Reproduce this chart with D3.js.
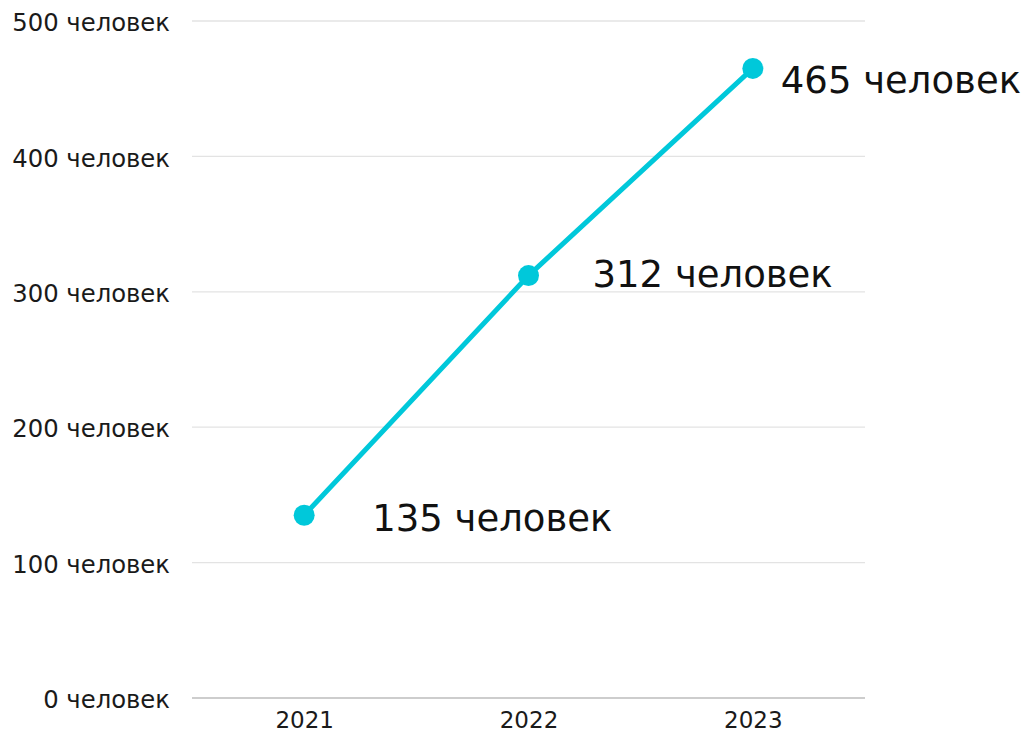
<!DOCTYPE html>
<html><head><meta charset="utf-8">
<script src="https://cdn.jsdelivr.net/npm/d3@7"></script>
<style>
html,body{margin:0;padding:0;background:#fff;overflow:hidden}
svg{display:block}
text{font-family:"DejaVu Sans",sans-serif}
</style></head>
<body><svg id="c" width="1030" height="731"></svg>
<script>
const years = ["2021","2022","2023"];
const values = [135, 312, 465];
const yTicks = [0,100,200,300,400,500];
const unit = "человек";
// label layout offsets (dx, dy) relative to point
const labelOffsets = [[68,16],[64,11],[28,25]];

(function(){
const svg = d3.select("#c");
const pL = 192, pR = 865, pT = 21, pB = 698;
const x = d3.scalePoint().domain(years).range([pL, pR]).padding(0.5);
const y = d3.scaleLinear().domain([0,500]).range([pB, pT]);

svg.append("g").selectAll("line").data(yTicks.filter(d=>d>0)).join("line")
  .attr("x1", pL).attr("x2", pR)
  .attr("y1", d=>y(d)).attr("y2", d=>y(d))
  .attr("stroke", "#e3e3e3").attr("stroke-width", 1.3);

const yAxis = svg.append("g").attr("transform", `translate(${pL},0)`)
  .call(d3.axisLeft(y).tickValues(yTicks).tickSize(0).tickPadding(22).tickFormat(d=>d+" "+unit));
yAxis.select(".domain").remove();
yAxis.selectAll("text").attr("font-size", 24.3).attr("dy", "0.4em").attr("fill", "#1a1a1a").attr("font-family", "DejaVu Sans");

const xAxis = svg.append("g").attr("transform", `translate(0,${pB})`)
  .call(d3.axisBottom(x).tickSize(0).tickPadding(14));
xAxis.select(".domain").attr("stroke", "#bdbdbd").attr("stroke-width", 1.6)
  .attr("d", `M${pL},0H${pR}`);
xAxis.selectAll("text").attr("font-size", 23).attr("fill", "#1a1a1a").attr("font-family", "DejaVu Sans");

const pts = years.map((yr,i)=>({yr, v: values[i], i}));
svg.append("path").datum(pts)
  .attr("fill","none").attr("stroke","#00C8DA").attr("stroke-width",5)
  .attr("d", d3.line().x(d=>x(d.yr)).y(d=>y(d.v)));
svg.append("g").selectAll("circle").data(pts).join("circle")
  .attr("cx", d=>x(d.yr)).attr("cy", d=>y(d.v)).attr("r", 10.5).attr("fill","#00C8DA");

svg.append("g").selectAll("text").data(pts).join("text")
  .attr("x", d=>x(d.yr)+labelOffsets[d.i][0])
  .attr("y", d=>y(d.v)+labelOffsets[d.i][1])
  .attr("font-size", 37).attr("fill", "#111")
  .text(d=>d.v+" "+unit);
})();
</script></body></html>
